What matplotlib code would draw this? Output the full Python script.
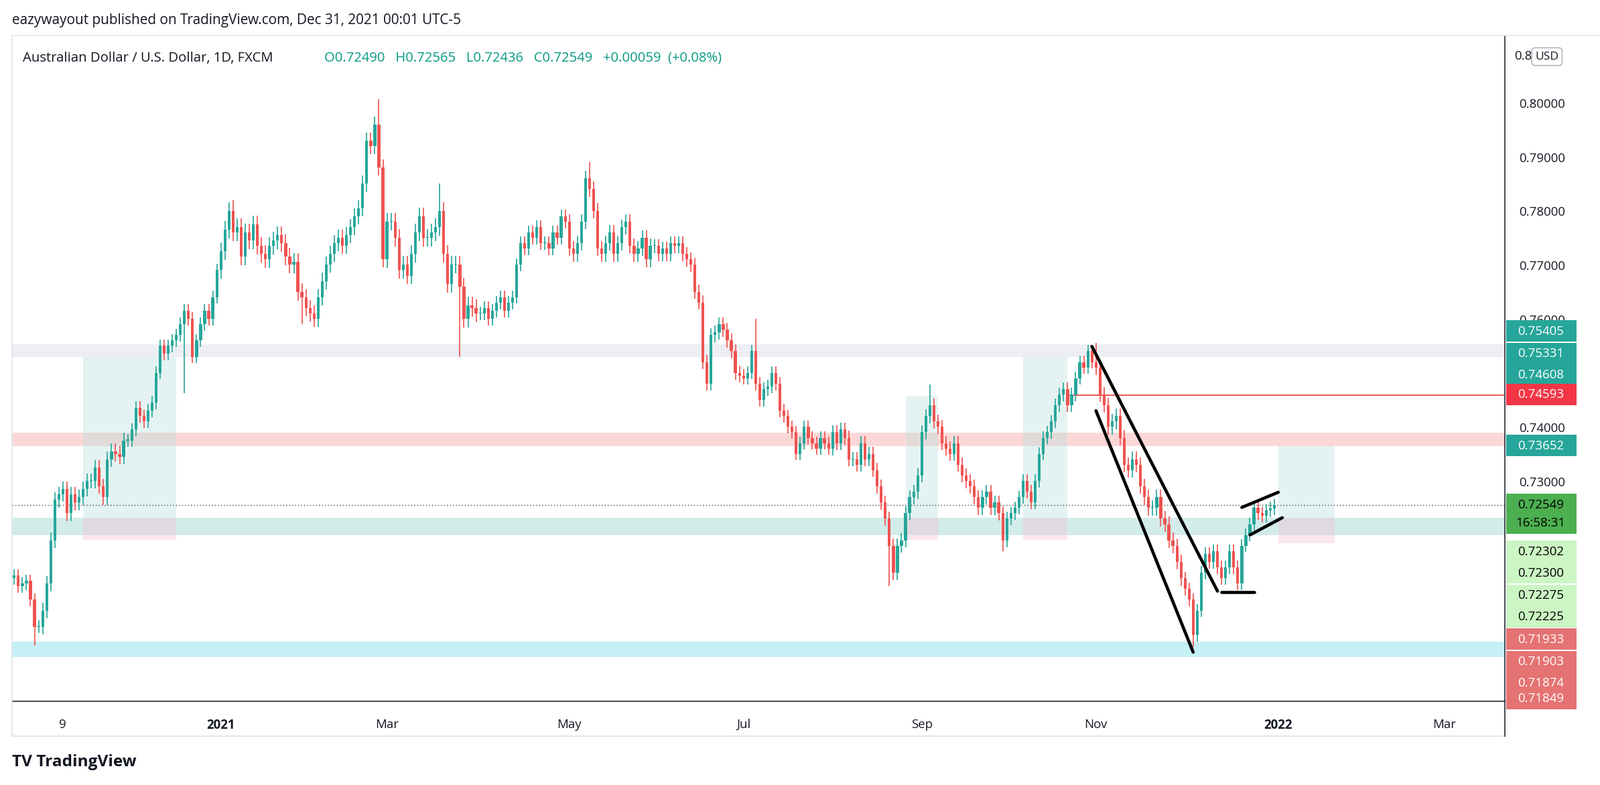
import numpy as np
import pandas as pd
import matplotlib
matplotlib.use("Agg")
import matplotlib.pyplot as plt
from matplotlib.patches import Rectangle

plt.rcParams['font.family'] = 'Open Sans'

# daily closes, AUD/USD, Oct 22 2020 .. Dec 31 2021 (business days)
c_2020_10 = [0.7125, 0.7105, 0.7110, 0.7115, 0.7080, 0.7030, 0.7030]
c_2020_11 = [0.7060, 0.7110, 0.7190, 0.7265, 0.7275, 0.7285, 0.7240, 0.7275, 0.7260, 0.7270, 0.7285,
             0.7300, 0.7300, 0.7325, 0.7290, 0.7270, 0.7340, 0.7355, 0.7350, 0.7345, 0.7375]
c_2020_12 = [0.7375, 0.7395, 0.7435, 0.7420, 0.7410, 0.7430, 0.7445, 0.7500, 0.7550, 0.7535, 0.7550,
             0.7560, 0.7570, 0.7590, 0.7615, 0.7600, 0.7530, 0.7560, 0.7590, 0.7615, 0.7600, 0.7640, 0.7690]
c_2021_01 = [0.7725, 0.7765, 0.7800, 0.7760, 0.7770, 0.7715, 0.7760, 0.7745, 0.7775, 0.7735, 0.7720,
             0.7710, 0.7735, 0.7745, 0.7755, 0.7740, 0.7715, 0.7700, 0.7705, 0.7650, 0.7640]
c_2021_02 = [0.7620, 0.7610, 0.7600, 0.7640, 0.7670, 0.7700, 0.7720, 0.7740, 0.7750, 0.7735,
             0.7755, 0.7770, 0.7790, 0.7805, 0.7850, 0.7930, 0.7920, 0.7960, 0.7880, 0.7710]
c_2021_03 = [0.7780, 0.7780, 0.7750, 0.7690, 0.7700, 0.7680, 0.7720, 0.7760, 0.7790, 0.7750, 0.7750,
             0.7760, 0.7770, 0.7800, 0.7720, 0.7665, 0.7700, 0.7700, 0.7660, 0.7600, 0.7625, 0.7620, 0.7610]
c_2021_04 = [0.7610, 0.7620, 0.7600, 0.7615, 0.7630, 0.7640, 0.7615, 0.7630, 0.7640, 0.7700, 0.7740,
             0.7730, 0.7760, 0.7750, 0.7770, 0.7740, 0.7740, 0.7730, 0.7760, 0.7750, 0.7790, 0.7780]
c_2021_05 = [0.7730, 0.7720, 0.7740, 0.7780, 0.7860, 0.7840, 0.7800, 0.7730, 0.7720, 0.7740, 0.7760,
             0.7720, 0.7740, 0.7770, 0.7780, 0.7735, 0.7720, 0.7730, 0.7750, 0.7710, 0.7735]
c_2021_06 = [0.7735, 0.7720, 0.7730, 0.7720, 0.7740, 0.7735, 0.7740, 0.7720, 0.7710, 0.7700, 0.7650,
             0.7630, 0.7520, 0.7480, 0.7570, 0.7575, 0.7590, 0.7580, 0.7560, 0.7540, 0.7500, 0.7495]
c_2021_07 = [0.7490, 0.7500, 0.7540, 0.7480, 0.7450, 0.7470, 0.7475, 0.7500, 0.7480, 0.7430, 0.7420,
             0.7400, 0.7390, 0.7350, 0.7370, 0.7400, 0.7380, 0.7370, 0.7360, 0.7380, 0.7370, 0.7360]
c_2021_08 = [0.7390, 0.7370, 0.7395, 0.7380, 0.7340, 0.7340, 0.7330, 0.7370, 0.7340, 0.7350, 0.7320,
             0.7290, 0.7260, 0.7230, 0.7180, 0.7130, 0.7180, 0.7190, 0.7240, 0.7270, 0.7280, 0.7310]
c_2021_09 = [0.7390, 0.7420, 0.7440, 0.7410, 0.7400, 0.7370, 0.7360, 0.7350, 0.7370, 0.7330, 0.7310,
             0.7300, 0.7290, 0.7270, 0.7250, 0.7270, 0.7280, 0.7250, 0.7260, 0.7240, 0.7190, 0.7230]
c_2021_10 = [0.7240, 0.7250, 0.7270, 0.7300, 0.7280, 0.7260, 0.7300, 0.7350, 0.7380, 0.7390, 0.7410,
             0.7440, 0.7460, 0.7470, 0.7440, 0.7460, 0.7490, 0.7520, 0.7510, 0.7540, 0.7520]
c_2021_11 = [0.7510, 0.7460, 0.7440, 0.7400, 0.7410, 0.7420, 0.7380, 0.7330, 0.7320, 0.7340, 0.7330,
             0.7290, 0.7270, 0.7250, 0.7250, 0.7270, 0.7230, 0.7220, 0.7190, 0.7180, 0.7150, 0.7120]
c_2021_12 = [0.7100, 0.7080, 0.7015, 0.7060, 0.7130, 0.7165, 0.7150, 0.7170, 0.7140, 0.7120, 0.7140,
             0.7170, 0.7140, 0.7110, 0.7180, 0.7200, 0.7220, 0.7250, 0.7240, 0.7235, 0.7245, 0.72490, 0.72549]
months = [c_2020_10, c_2020_11, c_2020_12, c_2021_01, c_2021_02, c_2021_03, c_2021_04, c_2021_05,
          c_2021_06, c_2021_07, c_2021_08, c_2021_09, c_2021_10, c_2021_11, c_2021_12]
# typical wick length per month
month_wick = [0.0012, 0.0014, 0.0012, 0.0016, 0.0015, 0.0016, 0.0012, 0.0014,
              0.0013, 0.0012, 0.0013, 0.0013, 0.0012, 0.0014, 0.0012]
# notable wick extremes
spike_high = {'2021-02-25': 0.8007, '2021-05-10': 0.7890, '2021-03-18': 0.7850, '2021-07-06': 0.7600,
              '2021-11-01': 0.7555, '2021-09-03': 0.7478, '2021-01-06': 0.7820, '2021-02-24': 0.7975}
spike_low = {'2021-12-03': 0.6993, '2021-08-20': 0.7106, '2020-10-29': 0.6995, '2020-12-21': 0.7462,
             '2021-03-25': 0.7530, '2021-01-29': 0.7590, '2021-09-29': 0.7170}

closes = np.concatenate(months)
opens = np.concatenate([[0.7120], closes[:-1]])
dates = pd.bdate_range('2020-10-22', periods=len(closes))
wick = np.concatenate([[w] * len(m) for w, m in zip(month_wick, months)])
highs = np.maximum(opens, closes) + wick
lows = np.minimum(opens, closes) - wick
for d, v in spike_high.items():
    highs[dates.get_loc(pd.Timestamp(d))] = v
for d, v in spike_low.items():
    lows[dates.get_loc(pd.Timestamp(d))] = v

all_dates = pd.bdate_range('2020-10-22', periods=400)
def ix(d):
    return all_dates.searchsorted(pd.Timestamp(d))

UP, DN = '#26a69a', '#ef5350'
W, H = 1568, 770
fig = plt.figure(figsize=(15.68, 7.70), dpi=152.3)
ax = fig.add_axes([12 / W, 1 - 688 / H, (1475 - 12) / W, (688 - 35) / H])
ax.set_xlim(-0.5, 368)
ax.set_ylim(0.6892, 0.8125)

# horizontal zones
zones = [(0.7530, 0.7553, '#e0e3eb', 0.6), (0.7364, 0.7389, '#f7a9a8', 0.45),
         (0.7200, 0.7232, '#80cbc4', 0.35), (0.6974, 0.7002, '#80deea', 0.45)]
for lo, hi, col, a in zones:
    ax.axhspan(lo, hi, color=col, alpha=a, lw=0, zorder=0)

# position tool boxes: start, end, entry, target, stop
positions = [('2020-11-16', '2020-12-17', 0.7232, 0.7530, 0.7191),
             ('2021-08-26', '2021-09-07', 0.7232, 0.7458, 0.7191),
             ('2021-10-06', '2021-10-21', 0.7232, 0.7530, 0.7191),
             ('2022-01-03', '2022-01-21', 0.7232, 0.7365, 0.7185)]
for s, e, entry, tgt, stop in positions:
    x0, x1 = ix(s), ix(e)
    ax.add_patch(Rectangle((x0, entry), x1 - x0, tgt - entry, color='#b2dfdb', alpha=0.35, lw=0, zorder=0.5))
    ax.add_patch(Rectangle((x0, stop), x1 - x0, entry - stop, color='#f8bbd0', alpha=0.35, lw=0, zorder=0.5))

ax.hlines(0.7459, ix('2021-10-21'), 368, color=DN, lw=0.9, zorder=1)
ax.axhline(closes[-1], color='#555555', lw=0.7, ls=(0, (1, 2)), zorder=1)

# candles
x = np.arange(len(closes))
cols = np.where(closes >= opens, UP, DN)
ax.vlines(x, lows, highs, colors=cols, lw=0.8, zorder=2)
body = np.maximum(np.abs(closes - opens), 0.00015)
ax.bar(x, body, bottom=np.minimum(opens, closes), width=0.7, color=cols, zorder=3, lw=0)

# drawn trend lines
lines = [(('2021-10-29', 0.7549), ('2021-12-13', 0.7096)),
         (('2021-11-01', 0.7430), ('2021-12-03', 0.6983)),
         (('2021-12-14', 0.7094), ('2021-12-24', 0.7094)),
         (('2021-12-21', 0.7251), ('2022-01-03', 0.7279)),
         (('2021-12-23', 0.7200), ('2022-01-04', 0.7232))]
for (d0, p0), (d1, p1) in lines:
    ax.plot([ix(d0), ix(d1)], [p0, p1], color='black', lw=2.2, solid_capstyle='round', zorder=4)

# axes styling
for s in ['top', 'left']:
    ax.spines[s].set_visible(False)
ax.spines['right'].set_color('#2a2e39')
ax.spines['bottom'].set_color('#2a2e39')
ax.spines['right'].set_linewidth(0.8)
ax.spines['bottom'].set_linewidth(0.8)
ax.yaxis.tick_right()
yt = [0.73, 0.74, 0.76, 0.77, 0.78, 0.79, 0.80]
ax.set_yticks(yt)
ax.set_yticklabels(['%.5f' % v for v in yt])
tick_dates = ['2020-11-09', '2021-01-01', '2021-03-01', '2021-05-03', '2021-07-01',
              '2021-09-01', '2021-11-01', '2022-01-03', '2022-03-01']
tick_labels = ['9', '2021', 'Mar', 'May', 'Jul', 'Sep', 'Nov', '2022', 'Mar']
ax.set_xticks([ix(d) for d in tick_dates])
ax.set_xticklabels(tick_labels)
for lab, t in zip(ax.get_xticklabels(), tick_labels):
    if t in ('2021', '2022'):
        lab.set_fontweight('bold')
ax.tick_params(axis='both', length=0, labelsize=8.8, colors='#131722', pad=12)
ax.tick_params(axis='y', pad=10)

# frame lines of chart pane
fig.add_artist(plt.Line2D([12 / W, 1475 / W], [1 - 722 / H] * 2, color='#e0e3eb', lw=0.8))
fig.add_artist(plt.Line2D([12 / W, 1568 / W], [1 - 35 / H] * 2, color='#e0e3eb', lw=0.8))
fig.add_artist(plt.Line2D([12 / W, 12 / W], [1 - 722 / H, 1 - 35 / H], color='#e0e3eb', lw=0.8))
fig.add_artist(plt.Line2D([1475 / W] * 2, [1 - 722 / H, 1 - 688 / H], color='#2a2e39', lw=0.8))

# price tags on the right scale
tags = [('0.75405', 325, '#26a69a', 'white'), ('0.75331', 347, '#26a69a', 'white'),
        ('0.74608', 368, '#26a69a', 'white'), ('0.74593', 387, '#f23645', 'white'),
        ('0.73652', 437, '#26a69a', 'white'), ('0.72549', 495, '#4caf50', 'black'),
        ('16:58:31', 513, '#4caf50', 'black'), ('0.72302', 541, '#ccf5c4', 'black'),
        ('0.72300', 562, '#ccf5c4', 'black'), ('0.72275', 584, '#ccf5c4', 'black'),
        ('0.72225', 605, '#ccf5c4', 'black'), ('0.71933', 627, '#e57373', 'white'),
        ('0.71903', 649, '#e57373', 'white'), ('0.71874', 670, '#e57373', 'white'),
        ('0.71849', 685, '#e57373', 'white')]
for txt, yp, bg, fg in tags:
    fig.patches.append(Rectangle((1476 / W, 1 - (yp + 10.5) / H), 69 / W, 21 / H,
                                 transform=fig.transFigure, color=bg, lw=0, zorder=5))
    fig.text(1510 / W, 1 - yp / H, txt, ha='center', va='center', fontsize=8.8, color=fg, zorder=6)
fig.text(1484 / W, 1 - 55 / H, '0.8', ha='left', va='center', fontsize=8.8, color='#131722')
fig.text(1516 / W, 1 - 56 / H, 'USD', ha='center', va='center', fontsize=8.2, color='#131722', zorder=7,
         bbox=dict(boxstyle='round,pad=0.3', fc='white', ec='#b2b5be', lw=0.8))

# headers
fig.text(12 / W, 1 - 20 / H, 'eazywayout published on TradingView.com, Dec 31, 2021 00:01 UTC-5',
         fontsize=9.8, color='#131722', va='center')
fig.text(22 / W, 1 - 57 / H, 'Australian Dollar / U.S. Dollar, 1D, FXCM', fontsize=9.6,
         color='#131722', va='center')
fig.text(318 / W, 1 - 57 / H, 'O0.72490   H0.72565   L0.72436   C0.72549   +0.00059  (+0.08%)',
         fontsize=9.6, color='#089981', va='center')
fig.text(12 / W, 1 - 747 / H, 'TV TradingView', fontsize=11.5, fontweight='bold',
         color='#131722', va='center')

fig.savefig('out.png', dpi=152.3)
